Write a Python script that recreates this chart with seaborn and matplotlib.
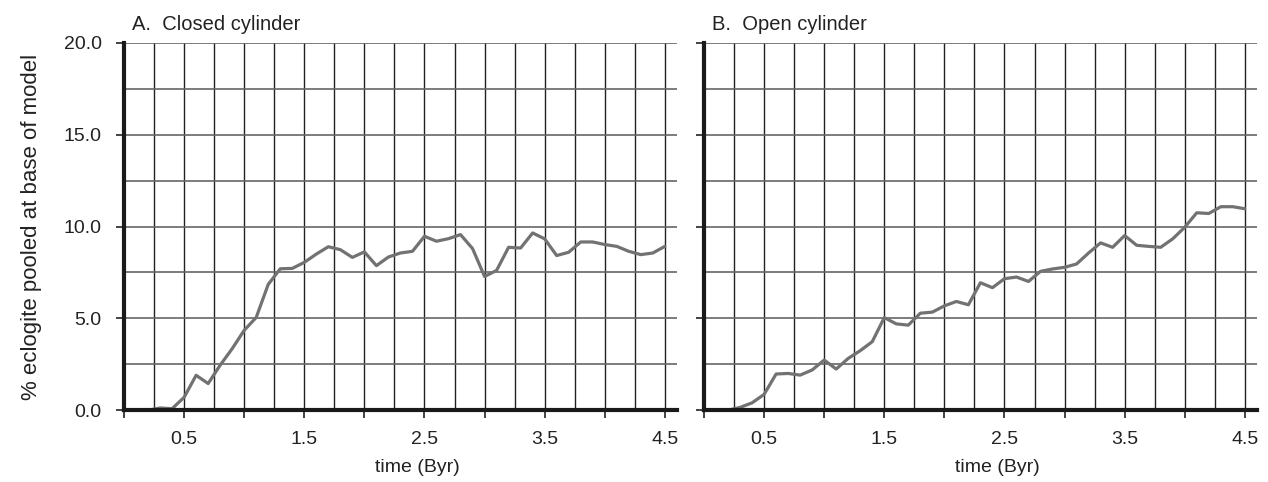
import numpy as np
import pandas as pd
import matplotlib
matplotlib.use("Agg")
import matplotlib.pyplot as plt
import seaborn as sns
from matplotlib.ticker import MultipleLocator, FixedLocator, FixedFormatter

# ---- data ----
time_byr = [round(0.1 * i, 1) for i in range(46)]
closed_cylinder = [0.0, 0.0, 0.0, 0.12, 0.08, 0.7, 1.9, 1.45, 2.45, 3.35,
                   4.35, 5.05, 6.85, 7.7, 7.72, 8.05, 8.5, 8.9, 8.74, 8.32,
                   8.62, 7.87, 8.34, 8.56, 8.65, 9.47, 9.2, 9.34, 9.56, 8.8,
                   7.28, 7.61, 8.87, 8.83, 9.65, 9.33, 8.42, 8.6, 9.16, 9.16,
                   9.02, 8.92, 8.65, 8.47, 8.56, 8.92]
open_cylinder = [0.0, 0.0, 0.0, 0.15, 0.4, 0.86, 1.97, 2.0, 1.91, 2.19,
                 2.73, 2.24, 2.82, 3.24, 3.73, 5.04, 4.7, 4.63, 5.28, 5.34,
                 5.68, 5.92, 5.74, 6.94, 6.67, 7.16, 7.25, 7.01, 7.56, 7.69,
                 7.78, 7.96, 8.56, 9.11, 8.87, 9.51, 8.98, 8.92, 8.87, 9.33,
                 9.96, 10.75, 10.71, 11.08, 11.08, 10.97]
panel_titles = ["A.  Closed cylinder", "B.  Open cylinder"]
x_tick_values = [0.0, 0.5, 1.0, 1.5, 2.0, 2.5, 3.0, 3.5, 4.0, 4.5]
x_tick_labels = ["", "0.5", "", "1.5", "", "2.5", "", "3.5", "", "4.5"]
y_tick_values = [0.0, 5.0, 10.0, 15.0, 20.0]
y_tick_labels = ["0.0", "5.0", "10.0", "15.0", "20.0"]
x_label = "time (Byr)"
y_label = "% eclogite pooled at base of model"

sns.set_theme(style="white")
plt.rcParams["font.family"] = ["Liberation Sans", "DejaVu Sans"]

fig = plt.figure(figsize=(12.68, 4.82), dpi=100)
ax1 = fig.add_axes([0.0978, 0.149, 0.436, 0.762])
ax2 = fig.add_axes([0.5552, 0.149, 0.436, 0.762])

series = [closed_cylinder, open_cylinder]
for i, (ax, vals, title) in enumerate(zip([ax1, ax2], series, panel_titles)):
    df = pd.DataFrame({"time": time_byr, "pct": vals})
    ax.set_xlim(0, 4.6)
    ax.set_ylim(0, 20)
    # grid
    ax.xaxis.set_major_locator(FixedLocator(x_tick_values))
    ax.xaxis.set_minor_locator(MultipleLocator(0.25))
    ax.yaxis.set_major_locator(FixedLocator(y_tick_values))
    ax.yaxis.set_minor_locator(MultipleLocator(2.5))
    ax.grid(True, which="both", axis="x", color="#222222", lw=1.0, zorder=1)
    ax.grid(True, which="both", axis="y", color="#666666", lw=1.2, zorder=1)
    ax.set_axisbelow(True)
    sns.lineplot(data=df, x="time", y="pct", ax=ax, color="#727272",
                 lw=2.3, zorder=3, clip_on=True)
    for s in ["top", "right"]:
        ax.spines[s].set_visible(False)
    for s in ["left", "bottom"]:
        ax.spines[s].set_visible(True)
        ax.spines[s].set_color("#1a1a1a")
        ax.spines[s].set_linewidth(3.0)
        ax.spines[s].set_zorder(4)
    ax.xaxis.set_major_formatter(FixedFormatter(x_tick_labels))
    if i == 0:
        ax.yaxis.set_major_formatter(FixedFormatter(y_tick_labels))
        ax.set_ylabel(y_label, fontsize=16, color="#222222", labelpad=16)
    else:
        ax.yaxis.set_major_formatter(FixedFormatter([""] * len(y_tick_values)))
        ax.set_ylabel("")
    ax.tick_params(which="major", direction="out", length=6, width=1.2,
                   color="#222222", labelsize=14, labelcolor="#222222",
                   bottom=True, left=True)
    ax.tick_params(axis="y", pad=10)
    ax.tick_params(axis="x", pad=9)
    ax.tick_params(which="minor", length=0)
    ax.set_xlabel(x_label, fontsize=14, color="#222222")
    ax.xaxis.set_label_coords(0.53, -0.133)
    ax.text(0.015, 1.025, title, transform=ax.transAxes, fontsize=14.5,
            color="#222222", ha="left", va="bottom")

fig.savefig("out.png", dpi=100, facecolor="white")
